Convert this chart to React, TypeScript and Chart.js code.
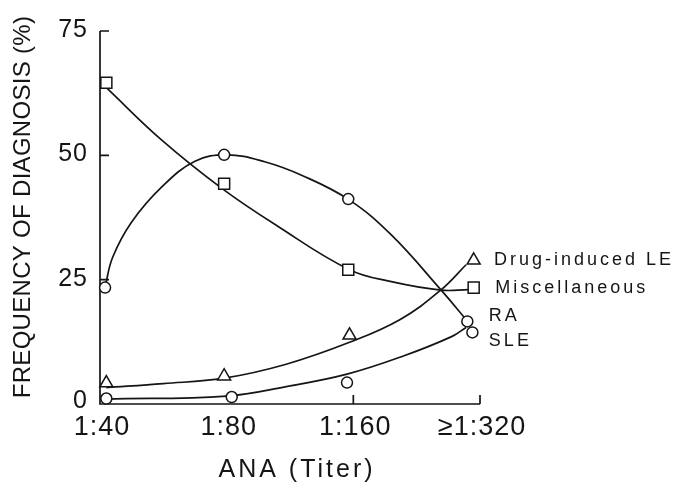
import { useEffect, useRef } from 'react';
import { Chart, registerables } from 'chart.js';

Chart.register(...registerables);

// ---- axis / labels ----
const categories = ['1:40', '1:80', '1:160', '≥1:320'];
const yTickValues = [0, 25, 50, 75];
const yTickMarks = [25, 50, 75];
const xTickMarks = [2, 3];
const xTitle = 'ANA (Titer)';
const yTitle = 'FREQUENCY OF DIAGNOSIS (%)';

// series labels drawn at the right end of curves
const seriesNames = ['Drug-induced LE', 'Miscellaneous', 'RA', 'SLE'];
const labelValues = [29.0, 23.4, 17.6, 12.6];
const labelX = [3.11, 3.12, 3.07, 3.07];

// ---- observed points (x in category index units) ----
const drugPtsX = [0.05, 0.98, 1.97, 2.95];
const drugPtsY = [4.2, 5.6, 13.8, 28.9];
const miscPtsX = [0.05, 0.98, 1.96, 2.95];
const miscPtsY = [64.6, 44.3, 27.0, 23.4];
const raPtsX = [0.04, 0.98, 1.96, 2.9];
const raPtsY = [23.4, 50.1, 41.2, 16.6];
const slePtsX = [0.05, 1.04, 1.95, 2.94];
const slePtsY = [1.1, 1.4, 4.3, 14.4];

// ---- fitted curves ----
const drugCurveX = [0.05, 0.5, 0.98, 1.47, 1.97, 2.37, 2.69, 2.89];
const drugCurveY = [3.3, 4.1, 5.2, 8.0, 12.4, 17.0, 22.9, 28.0];
const miscCurveX = [0.05, 0.49, 0.97, 1.4, 1.97, 2.3, 2.69, 2.91];
const miscCurveY = [63.6, 53.0, 43.2, 35.8, 27.0, 24.6, 22.9, 23.0];
const raCurveX = [0.04, 0.1, 0.25, 0.49, 0.75, 1.0, 1.3, 1.6, 1.97, 2.3, 2.69, 2.89];
const raCurveY = [23.5, 29.5, 36.6, 43.7, 48.8, 50.1, 48.7, 45.9, 41.0, 34.0, 23.0, 17.0];
const sleCurveX = [0.05, 1.0, 1.47, 1.95, 2.39, 2.78, 2.89];
const sleCurveY = [1.0, 1.6, 3.5, 6.0, 9.6, 13.6, 15.4];

const INK = '#151515';
const FONT = '"Liberation Sans", Arial, sans-serif';

const zip = (xs: number[], ys: number[]) => xs.map((x, i) => ({ x, y: ys[i] }));

const markerSet = (xs: number[], ys: number[], style: string, r: number) => ({
  data: zip(xs, ys),
  showLine: false,
  pointStyle: style,
  pointRadius: r,
  pointBackgroundColor: '#ffffff',
  pointBorderColor: INK,
  pointBorderWidth: 1.5,
  clip: false as const,
  order: 0,
});

const curveSet = (xs: number[], ys: number[]) => ({
  data: zip(xs, ys),
  showLine: true,
  pointRadius: 0,
  borderColor: INK,
  borderWidth: 1.7,
  tension: 0.4,
  fill: false,
  clip: false as const,
  order: 1,
});

const axesPlugin = {
  id: 'figureAxes',
  beforeDatasetsDraw(chart: any) {
    const { ctx, chartArea } = chart;
    const xs = chart.scales.x;
    const ys = chart.scales.y;
    ctx.save();
    ctx.strokeStyle = INK;
    ctx.lineWidth = 1.7;
    ctx.beginPath();
    ctx.moveTo(chartArea.left, ys.getPixelForValue(75));
    ctx.lineTo(chartArea.left, ys.getPixelForValue(0));
    ctx.lineTo(xs.getPixelForValue(3), ys.getPixelForValue(0));
    for (const v of yTickMarks) {
      const py = ys.getPixelForValue(v);
      ctx.moveTo(chartArea.left, py);
      ctx.lineTo(chartArea.left + 9, py);
    }
    for (const v of xTickMarks) {
      const px = xs.getPixelForValue(v);
      ctx.moveTo(px, ys.getPixelForValue(0));
      ctx.lineTo(px, ys.getPixelForValue(0) - 9);
    }
    ctx.stroke();
    ctx.restore();
  },
  afterDraw(chart: any) {
    const { ctx, chartArea } = chart;
    const xs = chart.scales.x;
    const ys = chart.scales.y;
    ctx.save();
    ctx.fillStyle = INK;
    ctx.textBaseline = 'middle';

    // y tick labels
    ctx.font = `25px ${FONT}`;
    ctx.textAlign = 'right';
    ctx.letterSpacing = '1px';
    for (const v of yTickValues) {
      ctx.fillText(String(v), chartArea.left - 12, ys.getPixelForValue(v) - (v === 0 ? 3 : 1));
    }
    // x tick labels
    ctx.font = `27px ${FONT}`;
    ctx.textAlign = 'center';
    categories.forEach((c, i) => {
      ctx.fillText(c, xs.getPixelForValue(i) + 2, 428);
    });

    // x title
    ctx.font = `25px ${FONT}`;
    ctx.letterSpacing = '3px';
    ctx.fillText(xTitle, 297, 470);

    // y title
    ctx.save();
    ctx.translate(23, 207);
    ctx.rotate(-Math.PI / 2);
    ctx.font = `24px ${FONT}`;
    ctx.letterSpacing = '0.3px';
    ctx.textAlign = 'center';
    ctx.fillText(yTitle, 0, 0);
    ctx.restore();

    // series labels
    ctx.font = `18px ${FONT}`;
    ctx.textAlign = 'left';
    ctx.letterSpacing = '3px';
    seriesNames.forEach((n, i) => {
      ctx.fillText(n, xs.getPixelForValue(labelX[i]), ys.getPixelForValue(labelValues[i]));
    });
    ctx.letterSpacing = '0px';
    ctx.restore();
  },
};

export default function App() {
  const ref = useRef<HTMLCanvasElement | null>(null);

  useEffect(() => {
    document.body.style.margin = '0';
    const canvas = ref.current;
    if (!canvas) return;
    const chart = new Chart(canvas, {
      type: 'scatter',
      data: {
        datasets: [
          markerSet(drugPtsX, drugPtsY, 'triangle', 7.5),
          markerSet(miscPtsX, miscPtsY, 'rect', 7.8),
          markerSet(raPtsX, raPtsY, 'circle', 5.5),
          markerSet(slePtsX, slePtsY, 'circle', 5.5),
          curveSet(drugCurveX, drugCurveY),
          curveSet(miscCurveX, miscCurveY),
          curveSet(raCurveX, raCurveY),
          curveSet(sleCurveX, sleCurveY),
        ] as any,
      },
      options: {
        animation: false,
        responsive: false,
        devicePixelRatio: 1,
        layout: { padding: { left: 100, top: 31, right: 199, bottom: 82 } },
        plugins: { legend: { display: false }, tooltip: { enabled: false } },
        events: [],
        scales: {
          x: { type: 'linear', min: 0, max: 3, display: false },
          y: { type: 'linear', min: 0, max: 75, display: false },
        },
      },
      plugins: [axesPlugin],
    });
    return () => chart.destroy();
  }, []);

  return (
    <div style={{ width: 679, height: 486, background: '#fff' }}>
      <canvas ref={ref} width={679} height={486} />
    </div>
  );
}
